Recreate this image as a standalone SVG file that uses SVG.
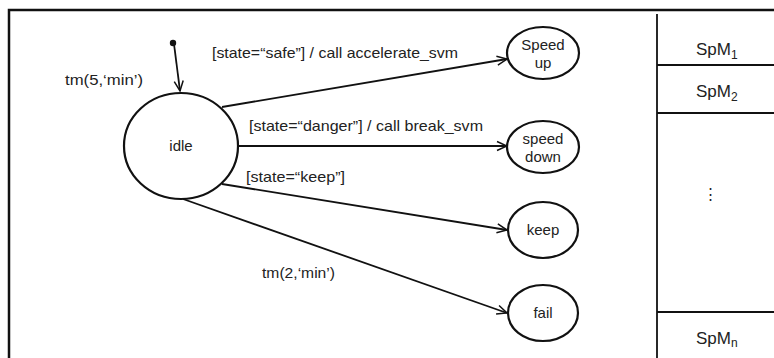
<svg xmlns="http://www.w3.org/2000/svg" width="774" height="358" viewBox="0 0 774 358">
<defs>
<marker id="arr" viewBox="0 0 12 12" refX="11" refY="6" markerWidth="12" markerHeight="12" markerUnits="userSpaceOnUse" orient="auto">
<path d="M1,1.5 L11,6 L1,10.5" fill="none" stroke="#111" stroke-width="1.5"/>
</marker>
</defs>
<style>
text{font-family:"Liberation Sans",Arial,sans-serif;fill:#222;}
.lbl{font-size:15px;}
.st{fill:#fff;stroke:#111;stroke-width:2.2;}
.ln{stroke:#111;stroke-width:1.8;fill:none;}
.bd{stroke:#111;stroke-width:2.5;fill:none;}
.sp{font-size:17px;}
</style>
<rect x="9" y="10" width="780" height="370" class="bd"/>
<line x1="657" y1="14" x2="657" y2="358" class="ln"/>
<line x1="657" y1="65" x2="774" y2="65" class="ln"/>
<line x1="657" y1="113" x2="774" y2="113" class="ln"/>
<line x1="657" y1="312" x2="774" y2="312" class="ln"/>
<g id="spm1"><text class="sp" x="696" y="55">SpM<tspan font-size="12" dy="4">1</tspan></text></g>
<g id="spm2"><text class="sp" x="696" y="97">SpM<tspan font-size="12" dy="4">2</tspan></text></g>
<g id="dots"><text class="lbl" x="710" y="199" text-anchor="middle">⋮</text></g>
<g id="spmn"><text class="sp" x="696" y="344">SpM<tspan font-size="12" dy="3">n</tspan></text></g>
<g id="connectors">
<line x1="174" y1="44" x2="180" y2="91" class="ln" marker-end="url(#arr)"/>
<line x1="222" y1="107" x2="507" y2="59" class="ln" marker-end="url(#arr)"/>
<line x1="238" y1="146" x2="507" y2="146" class="ln" marker-end="url(#arr)"/>
<line x1="222" y1="184" x2="507" y2="230" class="ln" marker-end="url(#arr)"/>
<line x1="183" y1="199" x2="507" y2="313" class="ln" marker-end="url(#arr)"/>
<text class="lbl" x="212" y="58" textLength="246" lengthAdjust="spacingAndGlyphs">[state=“safe”] / call accelerate_svm</text>
<text class="lbl" x="249" y="131" textLength="234" lengthAdjust="spacingAndGlyphs">[state=“danger”] / call break_svm</text>
<text class="lbl" x="246" y="182" textLength="99" lengthAdjust="spacingAndGlyphs">[state=“keep”]</text>
<text class="lbl" x="65" y="85" textLength="78" lengthAdjust="spacingAndGlyphs">tm(5,‘min’)</text>
<text class="lbl" x="262" y="278" textLength="73" lengthAdjust="spacingAndGlyphs">tm(2,‘min’)</text>
</g>
<g id="start"><circle cx="173" cy="43" r="3.2" fill="#111"/></g>
<g id="idle"><ellipse cx="181" cy="146" rx="57" ry="53" class="st"/><text class="lbl" x="181" y="151" text-anchor="middle" font-size="16">idle</text></g>
<g id="speedup"><ellipse cx="543" cy="53" rx="36" ry="26" class="st"/><text class="lbl" x="543" y="50" text-anchor="middle">Speed</text><text class="lbl" x="543" y="68" text-anchor="middle">up</text></g>
<g id="speeddown"><ellipse cx="543" cy="147" rx="36" ry="26" class="st"/><text class="lbl" x="543" y="144" text-anchor="middle">speed</text><text class="lbl" x="543" y="162" text-anchor="middle">down</text></g>
<g id="keep"><ellipse cx="543" cy="230" rx="35" ry="28" class="st"/><text class="lbl" x="543" y="235" text-anchor="middle">keep</text></g>
<g id="fail"><ellipse cx="543" cy="313" rx="35" ry="28" class="st"/><text class="lbl" x="543" y="318" text-anchor="middle">fail</text></g>
</svg>
